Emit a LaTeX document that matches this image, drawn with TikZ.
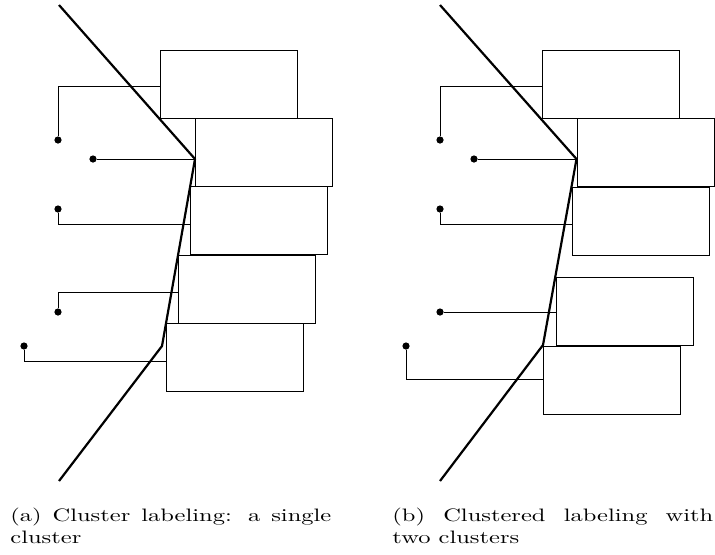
\documentclass[tikz,border=0pt]{standalone}
\usepackage{graphicx}
\begin{document}
\begin{tikzpicture}[x=0.5pt, y=-0.5pt]
		\tikzstyle{label box}
		=[draw, rectangle, minimum width=68.5pt, minimum height=34pt, inner sep=0pt, line width=0.5pt]
		\tikzstyle{site}
		=[circle, fill=black, minimum size=3.6pt, inner sep=0pt]
		\tikzstyle{leader}
		=[line width=0.5pt]
		\tikzstyle{boundary}
		=[line width=1.1pt, line join=round]
		\tikzstyle{caption}
		=[anchor=north west, inner sep=0pt]
		\newcommand{\subcap}[1]{\scalebox{1.225}[0.9]{\parbox[t]{131pt}{#1}}}
		
		\useasboundingbox (0,0) rectangle (715,554);
		
		% (a) one cluster: label boxes stacked along the boundary
		\foreach \name / \x / \y in {1/228.5/84.5, 2/264/152, 3/259/220.5, 4/247/289, 5/234.5/357.5}
		\node[label box] (A-\name) at (\x,\y) {};
		
		% Draw the sites
		\foreach \name / \x / \y in {1/58/140, 2/93/159, 3/58/209, 4/58/312, 5/24/346}
		\node[site] (a-\name) at (\x,\y) {};
		
		% Connect every site with its label
		\draw[leader] (a-1) |- (A-1.west |- 0,86);
		\draw[leader] (a-2) -- (A-2.west |- a-2);
		\draw[leader] (a-3) |- (A-3.west |- 0,224);
		\draw[leader] (a-4) |- (A-4.west |- 0,292);
		\draw[leader] (a-5) |- (A-5.west |- 0,361);
		
		% The boundary
		\coordinate (a-top) at (59,5);
		\coordinate (a-bend) at (162,346);
		\coordinate (a-bottom) at (59,481);
		\draw[boundary] (a-top) -- (A-2.west |- a-2) -- (a-bend) -- (a-bottom);
		
		% (b) two clusters
		\foreach \name / \x / \y in {1/610.5/84.5, 2/645.5/152, 3/640.5/221, 4/624.5/311.5, 5/611.5/380.5}
		\node[label box] (B-\name) at (\x,\y) {};
		
		\foreach \name / \x / \y in {1/440/140, 2/474/159, 3/440/209, 4/440/312, 5/406/346}
		\node[site] (b-\name) at (\x,\y) {};
		
		\draw[leader] (b-1) |- (B-1.west |- 0,86);
		\draw[leader] (b-2) -- (B-2.west |- b-2);
		\draw[leader] (b-3) |- (B-3.west |- 0,224);
		\draw[leader] (b-4) -- (B-4.west |- b-4);
		\draw[leader] (b-5) |- (B-5.west |- 0,379);
		
		\coordinate (b-top) at (440,5);
		\coordinate (b-bend) at (543,345);
		\coordinate (b-bottom) at (440,481);
		\draw[boundary] (b-top) -- (B-2.west |- b-2) -- (b-bend) -- (b-bottom);
		
		% Subcaptions
		\node[caption] (cap-a) at (10,507.5) {\subcap{(a) Cluster labeling: a single cluster}};
		\node[caption] (cap-b) at (392,507.5) {\subcap{(b) Clustered labeling with two clusters}};
	\end{tikzpicture}
\end{document}
